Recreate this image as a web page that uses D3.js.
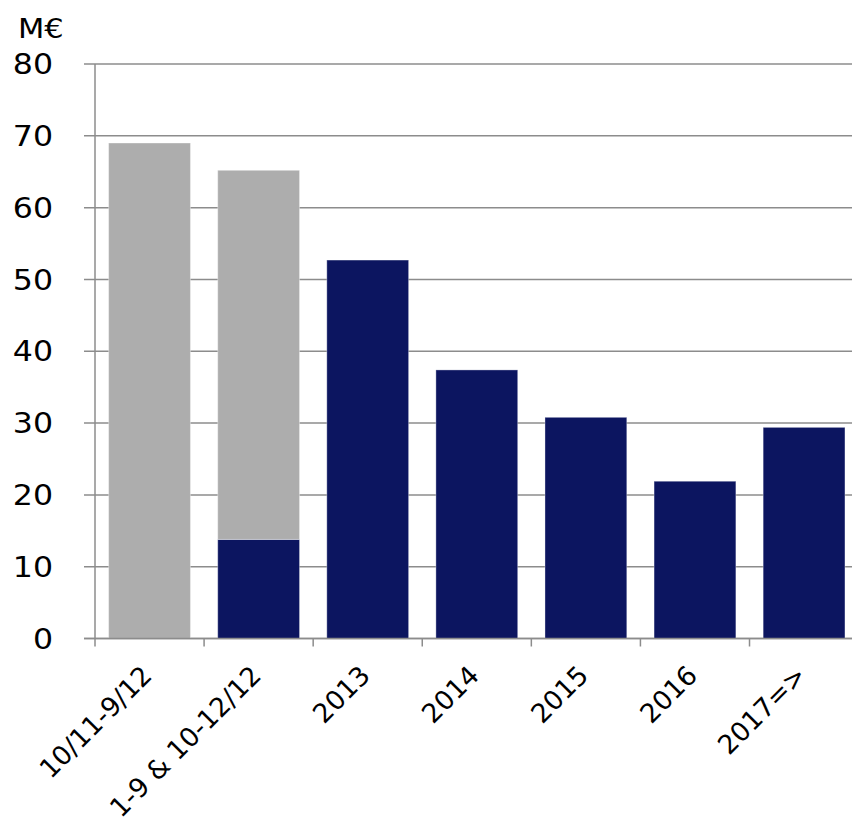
<!DOCTYPE html>
<html>
<head>
<meta charset="utf-8">
<script src="https://cdn.jsdelivr.net/npm/d3@7"></script>
<style>
  body { margin: 0; background: #fff; }
  svg text { font-family: "DejaVu Sans", Verdana, sans-serif; fill: #000; }
</style>
</head>
<body>
<svg id="chart" width="852" height="822"></svg>
<script>
// Periods on the category axis
const categories = ["10/11-9/12", "1-9 & 10-12/12", "2013", "2014", "2015", "2016", "2017=>"];
// Amounts in M€, stacked: navy segment at the bottom, grey segment on top
const navyValues = [0, 13.8, 52.7, 37.4, 30.8, 21.9, 29.4];
const greyValues = [69.0, 51.4, 0, 0, 0, 0, 0];
const yTicks = [0, 10, 20, 30, 40, 50, 60, 70, 80];
const unitLabel = "M€";

const svg = d3.select("#chart");
const plotLeft = 95, plotRight = 858.6, plotTop = 64, plotBottom = 638.5;
const gridColor = "#8c8c8c";
const wide = 1.13; // horizontal stretch of the axis lettering

const x = d3.scaleBand().domain(categories).range([plotLeft, plotRight]).paddingInner(0.25).paddingOuter(0.125);
const xTick = d3.scaleBand().domain(categories).range([plotLeft, plotRight]).padding(0);
const y = d3.scaleLinear().domain([0, 80]).range([plotBottom, plotTop]);

// Horizontal gridlines with short ticks to the left of the axis
const grid = svg.append("g");
grid.selectAll("line").data(yTicks).join("line")
  .attr("x1", plotLeft - 11).attr("x2", 852)
  .attr("y1", d => y(d)).attr("y2", d => y(d))
  .attr("stroke", gridColor).attr("stroke-width", 1.5);

// Bars
const rows = categories.map((c, i) => ({ c, navy: navyValues[i], grey: greyValues[i] }));
const stack = d3.stack().keys(["navy", "grey"])(rows);
const colors = { navy: "#0c1560", grey: "#adadad" };
svg.append("g").selectAll("g").data(stack).join("g")
  .attr("fill", d => colors[d.key])
  .selectAll("rect").data(d => d.filter(s => s[1] - s[0] > 0)).join("rect")
  .attr("x", d => x(d.data.c))
  .attr("width", x.bandwidth())
  .attr("y", d => y(d[1]))
  .attr("height", d => y(d[0]) - y(d[1]))
  .attr("stroke", "#ffffff").attr("stroke-opacity", 0.35).attr("stroke-width", 1);

// Y axis line
svg.append("line").attr("x1", plotLeft).attr("x2", plotLeft).attr("y1", plotTop).attr("y2", plotBottom)
  .attr("stroke", gridColor).attr("stroke-width", 1.5);

// X axis line and tick marks between categories
svg.append("line").attr("x1", plotLeft - 11).attr("x2", 852).attr("y1", plotBottom).attr("y2", plotBottom)
  .attr("stroke", gridColor).attr("stroke-width", 1.5);
svg.append("g").selectAll("line").data(categories).join("line")
  .attr("x1", d => xTick(d)).attr("x2", d => xTick(d))
  .attr("y1", plotBottom).attr("y2", plotBottom + 8)
  .attr("stroke", gridColor).attr("stroke-width", 1.5);

// Y tick labels
svg.append("g").selectAll("text").data(yTicks).join("text")
  .attr("transform", d => `translate(53,${y(d)}) scale(${wide},1)`)
  .attr("dy", "0.36em")
  .attr("text-anchor", "end").attr("font-size", 28)
  .text(d => d);

// Unit label
svg.append("text").attr("transform", `translate(18,38) scale(${wide},1)`)
  .attr("font-size", 27).text(unitLabel);

// Rotated category labels
svg.append("g").selectAll("text").data(categories).join("text")
  .attr("text-anchor", "end").attr("font-size", 26.5)
  .attr("transform", d => `translate(${x(d) + x.bandwidth() / 2 + 4},${677}) rotate(-45)`)
  .text(d => d);
</script>
</body>
</html>
